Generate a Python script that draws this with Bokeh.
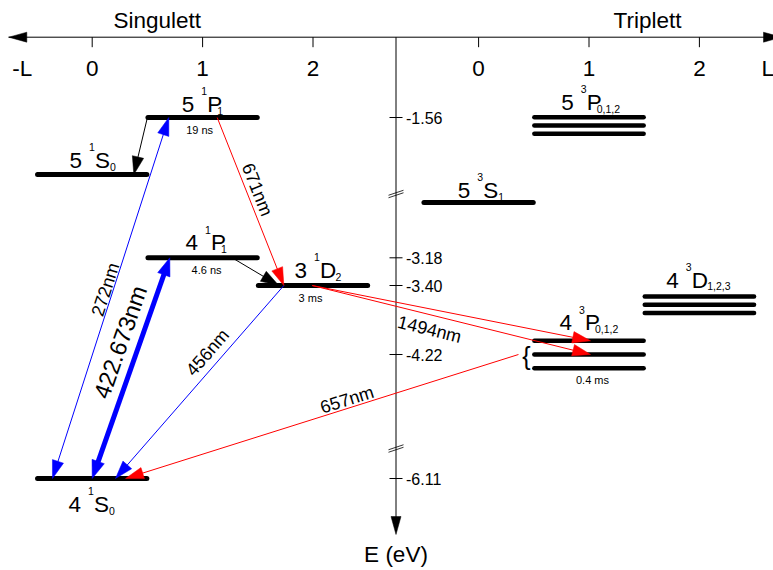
import numpy as np
from bokeh.plotting import figure
from bokeh.models import Range1d
from bokeh.core.properties import value
from bokeh.embed import file_html
from bokeh.resources import INLINE

# ---------------- data ----------------
# energy axis: labelled energies (eV below the ionisation limit)
E_TICKS = [-1.56, -3.18, -3.40, -4.22, -6.11]
E_TICK_LABELS = ["-1.56", "-3.18", "-3.40", "-4.22", "-6.11"]
# orbital angular momentum axis
L_TICKS = [0, 1, 2]
L_TICK_LABELS = ["0", "1", "2"]

# term levels of calcium
LEVEL_NAMES = ["4 1S0", "4 1P1", "3 1D2", "5 1S0", "5 1P1", "4 3P", "4 3D", "5 3S1", "5 3P"]
LEVEL_SERIES = ["S", "S", "S", "S", "S", "T", "T", "T", "T"]   # singlet / triplet
LEVEL_L = [0, 1, 2, 0, 1, 1, 2, 0, 1]
LEVEL_E = [-6.11, -3.18, -3.40, -1.98, -1.56, -4.22, -3.59, -2.20, -1.58]
LEVEL_JCOUNT = [1, 1, 1, 1, 1, 3, 3, 1, 3]
LEVEL_N = ["4", "4", "3", "5", "5", "4", "4", "5", "5"]
LEVEL_MULT = ["1", "1", "1", "1", "1", "3", "3", "3", "3"]
LEVEL_TERM = ["S", "P", "D", "S", "P", "P", "D", "S", "P"]
LEVEL_J = ["0", "1", "2", "0", "1", "0,1,2", "1,2,3", "1", "0,1,2"]

LIFETIME_LEVELS = ["5 1P1", "4 1P1", "3 1D2", "4 3P"]
LIFETIMES = ["19 ns", "4.6 ns", "3 ms", "0.4 ms"]

# transitions: start level / L position / fine-structure line, end level ...
TR_FROM = ["5 1P1", "4 1S0", "4 1S0", "3 1D2", "5 1P1", "4 1P1", "3 1D2", "3 1D2", "4 3P"]
TR_FROM_L = [0.50, -0.36, 0.00, 1.736, 1.132, 1.268, 1.993, 1.993, 0.361]
TR_FROM_J = [0, 0, 0, 0, 0, 0, 0, 0, 1]
TR_TO = ["5 1S0", "5 1P1", "4 1P1", "4 1S0", "3 1D2", "3 1D2", "4 3P", "4 3P", "4 1S0"]
TR_TO_L = [0.377, 0.694, 0.703, 0.211, 1.736, 1.69, 1.014, 1.014, 0.302]
TR_TO_J = [0, 0, 0, 0, 0, 0, 0, 1, 0]
TR_LABEL = ["", "272nm", "422.673nm", "456nm", "671nm", "", "", "1494nm", "657nm"]
TR_COLOR = ["black", "#0000ff", "#0000ff", "#0000ff", "#ff0000", "black", "#ff0000", "#ff0000", "#ff0000"]
TR_BOTH = [False, True, True, False, False, False, False, False, False]
TR_WIDTH = [1, 1, 5, 1, 1, 1, 1, 1, 1]

# ---------------- layout ----------------
W, H = 773, 570
SX = 110.4                 # pixels per unit of L
X0 = -91.7 / SX            # left edge of the frame in singlet L units
T_OFF = 3.5                # triplet L axis origin, in singlet L units

# broken energy axis: (-E, vertical position from the top)
AX_E = [1.56, 1.58, 1.98, 2.135, 2.20, 3.18, 3.40, 3.59, 4.22, 5.65, 6.11]
AX_PY = [117, 125, 174, 193.5, 202, 257.3, 285, 304.3, 354, 448, 478]
BREAKS_E = [-2.135, -5.65]

MULTI_GAP = {"4 3P": 13.7, "4 3D": 8.3, "5 3P": 8.3}
HALF_W = 0.495
AXIS_PX = 395.5
TOP_PY = 36.7

LBL_DX = {"5 1P1": -20.8, "5 1S0": -22.7, "4 1P1": -17.1, "3 1D2": -18.5, "4 1S0": -23.7,
          "5 3P": -27.8, "5 3S1": -20.8, "4 3P": -29.5, "4 3D": -33.2}
LBL_GAP = {"5 1P1": 5, "5 1S0": 6, "4 1P1": 7, "3 1D2": 7, "4 1S0": -34,
           "5 3P": 6.7, "5 3S1": 4, "4 3P": 10, "4 3D": 8.3}
SUB_DX = {"P": 10, "S": 15, "D": 15.5}
LIFE_POS = {"19 ns": (-3, 12), "4.6 ns": (4, 12.2), "3 ms": (-2.5, 12.5), "0.4 ms": (3.5, 12)}
WL_POS = {"272nm": (0.517, 7.5, 18), "422.673nm": (0.59, 18.5, 23.5),
          "456nm": (0.393, 13.4, 18), "671nm": (0.452, 10.6, 18),
          "1494nm": (0.434, -14.4, 18), "657nm": (0.43, 8.4, 18)}

FONT = value("Liberation Sans")
BIG = 22.5


def xd(px):
    return px / SX + X0


def yd(py):
    return H - py


def ypix(E):
    return float(np.interp(-E, AX_E, AX_PY))


def level_x(name, L):
    i = LEVEL_NAMES.index(name)
    off = T_OFF if LEVEL_SERIES[i] == "T" else 0.0
    return (L + off - X0) * SX


def level_y(name, j=0):
    i = LEVEL_NAMES.index(name)
    n = LEVEL_JCOUNT[i]
    return ypix(LEVEL_E[i]) + (j - (n - 1) / 2) * MULTI_GAP.get(name, 0.0)


p = figure(width=W, height=H, x_range=Range1d(X0, X0 + W / SX), y_range=Range1d(0, H),
           output_backend="svg", toolbar_location=None, x_axis_type=None, y_axis_type=None,
           min_border=0, outline_line_color=None, background_fill_color="white",
           border_fill_color="white")


def text(px, py, s, size, align="left", on_baseline=True, angle=0.0, color="black"):
    # texts are vertically centred; a baseline position is shifted up by half the cap height
    yc = py - 0.358 * size if on_baseline else py
    p.text(x=[xd(px)], y=[yd(yc)], text=[s], text_font=FONT, text_font_size=f"{size}px",
           text_align=align, text_baseline="middle", angle=angle, text_color=color)


def head(tip, u, length, hw, color):
    tip = np.asarray(tip, float)
    n = np.array([-u[1], u[0]])
    b = tip - u * length
    pts = [tip, b + n * hw, b - n * hw]
    p.patch(x=[xd(q[0]) for q in pts], y=[yd(q[1]) for q in pts], fill_color=color,
            line_color=color, line_width=0.5)


# ---- axes ----
p.line(x=[xd(8), xd(781)], y=[yd(TOP_PY)] * 2, line_color="black", line_width=1)
head((8.3, TOP_PY), np.array([-1.0, 0.0]), 18, 5, "black")
head((781, TOP_PY), np.array([1.0, 0.0]), 18, 5, "black")
for series_off in (0.0, T_OFF):
    for L, lab in zip(L_TICKS, L_TICK_LABELS):
        px = (L + series_off - X0) * SX
        p.line(x=[xd(px)] * 2, y=[yd(TOP_PY), yd(TOP_PY + 10)], line_color="black", line_width=1)
        text(px, 76, lab, BIG, align="center")
text((-0.634 - X0) * SX, 76, "-L", BIG, align="center")
text((2.62 + T_OFF - X0) * SX, 76, "L", BIG, align="center")
text((0.59 - X0) * SX, 28.3, "Singulett", BIG, align="center")
text((1.53 + T_OFF - X0) * SX, 28.3, "Triplett", BIG, align="center")

p.line(x=[xd(AXIS_PX)] * 2, y=[yd(TOP_PY), yd(518)], line_color="black", line_width=1)
head((AXIS_PX, 534), np.array([0.0, 1.0]), 18, 5, "black")
for E, lab in zip(E_TICKS, E_TICK_LABELS):
    py = ypix(E)
    p.line(x=[xd(AXIS_PX - 6.5), xd(AXIS_PX + 6.5)], y=[yd(py)] * 2, line_color="black", line_width=1)
    text(AXIS_PX + 10, py, lab, 16, on_baseline=False)
for E in BREAKS_E:
    py = ypix(E)
    for dy in (1.25, -1.25):
        p.line(x=[xd(AXIS_PX - 7.5), xd(AXIS_PX + 7.5)],
               y=[yd(py + dy + 2.5), yd(py + dy - 2.5)], line_color="black", line_width=0.8)
text(AXIS_PX, 562, "E (eV)", BIG, align="center")

# ---- levels ----
for i, name in enumerate(LEVEL_NAMES):
    cx = level_x(name, LEVEL_L[i])
    lw = 5 if LEVEL_JCOUNT[i] == 1 else 4.5
    for j in range(LEVEL_JCOUNT[i]):
        py = level_y(name, j)
        p.line(x=[xd(cx - HALF_W * SX), xd(cx + HALF_W * SX)], y=[yd(py)] * 2,
               line_color="black", line_width=lw, line_cap="round")
    # term symbol  n ^(2S+1) L _J
    top = level_y(name, 0)
    base = top - LBL_GAP[name]
    x0 = cx + LBL_DX[name]
    text(x0, base, LEVEL_N[i], BIG)
    text(x0 + 19.5, base - 17.5, LEVEL_MULT[i], 10.5)
    text(x0 + 25.5, base, LEVEL_TERM[i], BIG)
    text(x0 + 25.5 + SUB_DX[LEVEL_TERM[i]], base + 2, LEVEL_J[i], 10.5)

for name, lab in zip(LIFETIME_LEVELS, LIFETIMES):
    i = LEVEL_NAMES.index(name)
    cx = level_x(name, LEVEL_L[i])
    dx, dy = LIFE_POS[lab]
    text(cx + dx, level_y(name, LEVEL_JCOUNT[i] - 1) + dy, lab, 11, align="center", on_baseline=False)

# brace grouping the 4 3P fine-structure lines
text(level_x("4 3P", 1) - HALF_W * SX - 8, level_y("4 3P", 1) + 1, "{", 25,
     align="center", on_baseline=False)

# ---- transitions ----
for k in range(len(TR_FROM)):
    s = np.array([level_x(TR_FROM[k], TR_FROM_L[k]), level_y(TR_FROM[k], TR_FROM_J[k])])
    e = np.array([level_x(TR_TO[k], TR_TO_L[k]), level_y(TR_TO[k], TR_TO_J[k])])
    d = e - s
    length = float(np.hypot(*d))
    u = d / length
    thick = TR_WIDTH[k] > 2
    hl, hw = (18, 6.5) if thick else (18, 5.8)
    ls = s + u * hl * 0.85 if TR_BOTH[k] else s
    le = e - u * hl * 0.85
    p.line(x=[xd(ls[0]), xd(le[0])], y=[yd(ls[1]), yd(le[1])], line_color=TR_COLOR[k],
           line_width=TR_WIDTH[k])
    head(e, u, hl, hw, TR_COLOR[k])
    if TR_BOTH[k]:
        head(s, -u, hl, hw, TR_COLOR[k])
    lab = TR_LABEL[k]
    if lab:
        t, off, size = WL_POS[lab]
        v = u if u[0] >= 0 else -u
        up = np.array([v[1], -v[0]])
        c = s + u * t * length + up * off
        ang = float(np.arctan2(-v[1], v[0]))
        text(c[0], c[1], lab, size, align="center", on_baseline=False, angle=ang)

open("out.html", "w").write(file_html(p, INLINE))
